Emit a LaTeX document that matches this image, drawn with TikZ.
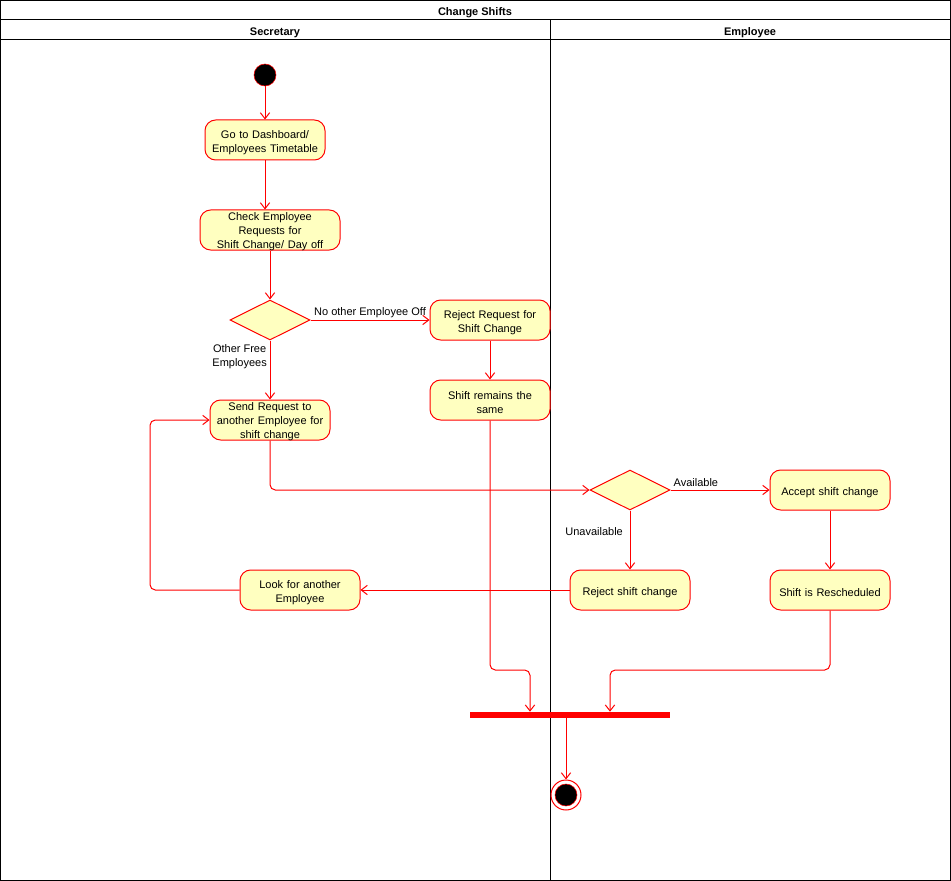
\documentclass[tikz,border=0pt]{standalone}
\usepackage{fontspec}
\setmainfont{Liberation Sans}
\usetikzlibrary{shapes.geometric,arrows.meta,positioning}
\definecolor{actfill}{HTML}{FFFFC0}
\definecolor{umlred}{HTML}{FF0000}
\newcommand\topstrut{\rule{0pt}{9.5pt}}

\begin{document}
\begin{tikzpicture}[x=0.75pt,y=-0.75pt,font=\fontsize{8.25}{10.5}\selectfont,
  action/.style={rectangle,rounded corners=8pt,draw=umlred,fill=actfill,line width=0.75pt,
    text width=88pt,minimum height=30pt,align=center,inner sep=1pt,
    execute at begin node=\topstrut},
  threeline/.style={inner ysep=0pt,text height=7.5pt,text depth=22.5pt},
  choice/.style={diamond,draw=umlred,fill=actfill,line width=0.75pt,
    minimum width=60pt,minimum height=30pt,inner sep=0pt},
  flow/.style={umlred,line width=0.75pt,rounded corners=4pt,-{Straight Barb[length=4.5pt,width=7pt]}},
  lane/.style={black,line width=0.75pt},
  header/.style={font=\fontsize{8.25}{10}\selectfont\bfseries,execute at begin node=\topstrut},
  guard/.style={inner sep=2pt,align=center,text=black,yshift=-1pt}]
  \useasboundingbox (0,0) rectangle (951,881);

  \draw[lane] (0.5,0.5) rectangle (950.5,880.5);
  \draw[lane] (0.5,20) -- (950.5,20);
  \draw[lane] (0.5,40) -- (950.5,40);
  \draw[lane] (550,20) -- (550,880.5);
  \node[header] (title) at (475,10) {Change Shifts};
  \node[header] (secr) at (275,30) {Secretary};
  \node[header] (empl) at (750,30) {Employee};

  \node[circle,draw=umlred,fill=black,minimum size=16.5pt,inner sep=0pt] (init) at (265,75) {};
  \node[action] (dash) at (265,140) {Go to Dashboard/\\Employees Timetable};
  \node[action,threeline,text width=103pt] (check) at (270,230) {Check Employee\\Requests for\\Shift Change/ Day off};
  \node[choice] (d1) at (270,320) {};
  \node[action] (rejreq) at (490,320) {Reject Request for\\Shift Change};
  \node[action] (same) at (490,400) {Shift remains the\\same};
  \node[action,threeline] (send) at (270,420) {Send Request to\\another Employee for\\shift change};
  \node[choice] (d2) at (630,490) {};
  \node[action] (accept) at (830,490) {Accept shift change};
  \node[action] (rejsc) at (630,590) {Reject shift change};
  \node[action] (resched) at (830,590) {Shift is Rescheduled};
  \node[action] (look) at (300,590) {Look for another\\Employee};
  \node[rectangle,fill=umlred,minimum width=150pt,minimum height=4.5pt,inner sep=0pt] (bar) at (570,715) {};
  \node[circle,draw=umlred,fill=white,line width=0.75pt,minimum size=22.5pt,inner sep=0pt] (fin) at (566,795) {};
  \node[circle,draw=umlred,fill=black,minimum size=16.5pt,inner sep=0pt] (finin) at (fin) {};

  \coordinate (back) at (150,590);
  \coordinate (j1) at (530,670);
  \coordinate (j2) at (610,670);

  \draw[flow] (init) -- (dash);
  \draw[flow] (dash) -- (dash |- check.north);
  \draw[flow] (check) -- (d1);
  \draw[flow] (d1) -- node[guard,above] (noother) {No other Employee Off} (rejreq);
  \draw[flow] (d1) -- node[guard,left,pos=0.25] (otherfree) {Other Free\\Employees} (send);
  \draw[flow] (rejreq) -- (same);
  \draw[flow] (send) |- (d2);
  \draw[flow] (d2) -- node[guard,pos=0,anchor=south west,yshift=1pt] (avail) {Available} (accept);
  \draw[flow] (d2) -- node[guard,pos=0.33,left,xshift=-3pt] (unavail) {Unavailable} (rejsc);
  \draw[flow] (accept) -- (resched);
  \draw[flow] (rejsc) -- (look);
  \draw[flow] (look) -- (back) |- (send);
  \draw[flow] (same) |- (j1) -- (j1 |- bar.north);
  \draw[flow] (resched) |- (j2) -- (j2 |- bar.north);
  \draw[flow] (fin |- bar.south) -- (fin);
\end{tikzpicture}
\end{document}
